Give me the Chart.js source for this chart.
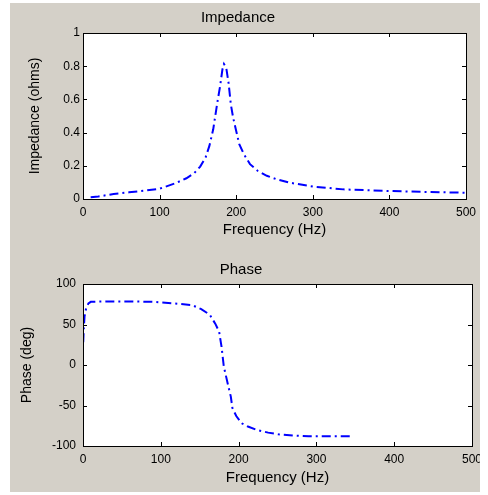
<!DOCTYPE html>
<html>
<head>
<meta charset="utf-8">
<title>Impedance and Phase</title>
<script src="https://cdn.jsdelivr.net/npm/chart.js@4/dist/chart.umd.min.js"></script>
<style>
    body { margin: 0; background: #ffffff; }
    #figure { position: absolute; left: 10px; top: 3px; width: 470px; height: 489px; background: #d4d0c8; }
    canvas { display: block; }
</style>
</head>
<body>
<div id="figure">
    <canvas id="impedance" width="470" height="242"></canvas>
    <canvas id="phase" width="470" height="247"></canvas>
</div>
<script>
// values
var freqTicks = [0, 100, 200, 300, 400, 500];
var impedanceTicks = [0, 0.2, 0.4, 0.6, 0.8, 1];
var phaseTicks = [-100, -50, 0, 50, 100];

var impedanceFreq = [10, 20, 40, 60, 80, 100, 120, 135, 145, 153, 160, 165, 170, 175, 179, 182, 184, 187, 190, 193, 196, 200, 204, 210, 218, 228, 240, 252, 270, 300, 340, 400, 450, 500];
var impedance = [0.01, 0.015, 0.03, 0.04, 0.05, 0.062, 0.094, 0.125, 0.155, 0.195, 0.25, 0.32, 0.42, 0.57, 0.68, 0.78, 0.813, 0.79, 0.70, 0.57, 0.49, 0.41, 0.33, 0.27, 0.21, 0.17, 0.14, 0.12, 0.098, 0.075, 0.058, 0.048, 0.042, 0.038];

var phaseFreq = [0.3, 1, 2, 4, 7, 10, 30, 60, 90, 118, 140, 152, 163, 170, 175, 178, 181, 187, 190, 192, 197, 204, 212, 223, 238, 251, 270, 290, 320, 345];
var phase = [28, 45, 60, 70, 76, 78, 78.5, 78.5, 78, 76, 74, 69, 62, 51, 41, 23, -2, -27, -39, -53, -63, -72, -76, -80, -83.5, -85.5, -87, -88, -88, -88];

var FONT = "'Liberation Sans', Arial, Helvetica, sans-serif";

// white axes box with matlab style inward ticks on all four sides
var boxTicks = {
    id: 'boxTicks',
    beforeDraw: function (chart) {
        var a = chart.chartArea;
        chart.ctx.save();
        chart.ctx.fillStyle = '#ffffff';
        chart.ctx.fillRect(a.left, a.top, a.right - a.left, a.bottom - a.top);
        chart.ctx.restore();
    },
    afterDraw: function (chart) {
        var ctx = chart.ctx;
        var a = chart.chartArea;
        var x = chart.scales.x;
        var y = chart.scales.y;
        var len = 4;
        ctx.save();
        ctx.strokeStyle = '#000000';
        ctx.lineWidth = 1;
        ctx.beginPath();
        x.ticks.forEach(function (t) {
            var px = Math.round(x.getPixelForValue(t.value)) + 0.5;
            ctx.moveTo(px, a.bottom);
            ctx.lineTo(px, a.bottom - len);
            ctx.moveTo(px, a.top);
            ctx.lineTo(px, a.top + len);
        });
        y.ticks.forEach(function (t) {
            var py = Math.round(y.getPixelForValue(t.value)) + 0.5;
            ctx.moveTo(a.left, py);
            ctx.lineTo(a.left + len, py);
            ctx.moveTo(a.right, py);
            ctx.lineTo(a.right - len, py);
        });
        ctx.stroke();
        ctx.strokeRect(Math.round(a.left) + 0.5, Math.round(a.top) + 0.5,
                Math.round(a.right - a.left), Math.round(a.bottom - a.top));
        ctx.restore();
    }
};

function graphicConstruct(canvasId, xs, ys, yTicks, opts) {
    var points = xs.map(function (v, i) {
        return {x: v, y: ys[i]};
    });
    var config = {
        type: 'line',
        data: {
            datasets: [{
                data: points,
                borderColor: '#0000ff',
                borderWidth: 2,
                borderDash: [9, 4, 2, 4],
                pointRadius: 0,
                tension: 0,
                fill: false
            }]
        },
        options: {
            responsive: false,
            animation: false,
            layout: {padding: {left: 0, right: opts.right, top: 0, bottom: 0}},
            scales: {
                x: {
                    type: 'linear',
                    min: freqTicks[0],
                    max: freqTicks[freqTicks.length - 1],
                    afterBuildTicks: function (scale) {
                        scale.ticks = freqTicks.map(function (v) { return {value: v}; });
                    },
                    afterFit: function (scale) {
                        scale.height = opts.xHeight;
                        scale.paddingLeft = 0;
                        scale.paddingRight = 0;
                    },
                    grid: {display: false, drawTicks: false},
                    border: {display: false},
                    ticks: {color: '#000', padding: 6, maxRotation: 0, font: {family: FONT, size: 12}},
                    title: {
                        display: true,
                        text: 'Frequency (Hz)',
                        color: '#000',
                        font: {family: FONT, size: 15},
                        padding: {top: 0, bottom: opts.xTitlePad}
                    }
                },
                y: {
                    type: 'linear',
                    min: yTicks[0],
                    max: yTicks[yTicks.length - 1],
                    afterBuildTicks: function (scale) {
                        scale.ticks = yTicks.map(function (v) { return {value: v}; });
                    },
                    afterFit: function (scale) {
                        scale.width = 73;
                        scale.paddingTop = 0;
                        scale.paddingBottom = 0;
                    },
                    grid: {display: false, drawTicks: false},
                    border: {display: false},
                    ticks: {
                        color: '#000',
                        padding: opts.yTickPad,
                        font: {family: FONT, size: 12},
                        callback: function (v) {
                            return String(Math.round(v * 10) / 10);
                        }
                    },
                    title: {
                        display: true,
                        text: opts.yTitle,
                        color: '#000',
                        font: {family: FONT, size: 14},
                        padding: {top: opts.yTitlePad, bottom: 0}
                    }
                }
            },
            plugins: {
                legend: {display: false},
                tooltip: {enabled: false},
                title: {
                    display: true,
                    text: opts.title,
                    color: '#000',
                    font: {family: FONT, size: 15, weight: 'normal'},
                    padding: {top: opts.titleTop, bottom: opts.titleBottom}
                }
            }
        },
        plugins: [boxTicks]
    };
    return new Chart(document.getElementById(canvasId), config);
}

graphicConstruct('impedance', impedanceFreq, impedance, impedanceTicks, {
    title: 'Impedance', yTitle: 'Impedance (ohms)',
    right: 14, xHeight: 46, xTitlePad: 6, yTitlePad: 16.6, yTickPad: 3,
    titleTop: 6, titleBottom: 6
});
graphicConstruct('phase', phaseFreq, phase, phaseTicks, {
    title: 'Phase', yTitle: 'Phase (deg)',
    right: 8, xHeight: 46, xTitlePad: 5, yTitlePad: 8.6, yTickPad: 7,
    titleTop: 16, titleBottom: 5
});
</script>
</body>
</html>
